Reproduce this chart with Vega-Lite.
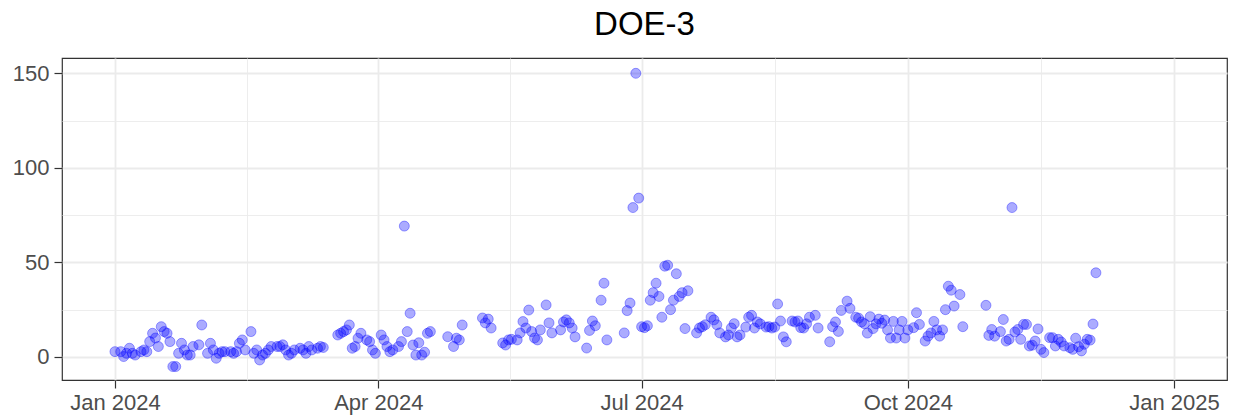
{
  "$schema": "https://vega.github.io/schema/vega-lite/v6.json",
  "width": 1165,
  "height": 322,
  "autosize": "none",
  "padding": {"left": 62, "top": 58, "right": 12, "bottom": 36},
  "background": "white",
  "title": {"text": "DOE-3", "font": "Liberation Sans", "fontSize": 33, "fontWeight": "normal", "color": "#000000", "anchor": "middle", "baseline": "alphabetic", "offset": 20, "dy": 30},
  "config": {"view": {"stroke": "#333333", "strokeWidth": 1.2}},
  "data": {"values": [
    {"date": "2024-01-01", "value": 2.8}, {"date": "2024-01-03", "value": 2.8}, {"date": "2024-01-04", "value": 0.2}, {"date": "2024-01-05", "value": 1.9}, {"date": "2024-01-06", "value": 4.6}, {"date": "2024-01-07", "value": 1.9}, {"date": "2024-01-08", "value": 1.0}, {"date": "2024-01-10", "value": 2.8}, {"date": "2024-01-11", "value": 3.7}, {"date": "2024-01-12", "value": 2.8}, {"date": "2024-01-13", "value": 8.1}, {"date": "2024-01-14", "value": 12.5}, {"date": "2024-01-15", "value": 10.0}, {"date": "2024-01-16", "value": 5.5}, {"date": "2024-01-17", "value": 16.0}, {"date": "2024-01-18", "value": 13.4}, {"date": "2024-01-19", "value": 12.5}, {"date": "2024-01-20", "value": 8.1}, {"date": "2024-01-21", "value": -5.1}, {"date": "2024-01-22", "value": -5.1}, {"date": "2024-01-23", "value": 1.9}, {"date": "2024-01-24", "value": 7.2}, {"date": "2024-01-25", "value": 3.7}, {"date": "2024-01-26", "value": 1.0}, {"date": "2024-01-27", "value": 1.0}, {"date": "2024-01-28", "value": 5.5}, {"date": "2024-01-30", "value": 6.4}, {"date": "2024-01-31", "value": 16.9},
    {"date": "2024-02-02", "value": 1.9}, {"date": "2024-02-03", "value": 7.2}, {"date": "2024-02-04", "value": 3.7}, {"date": "2024-02-05", "value": -0.7}, {"date": "2024-02-06", "value": 1.9}, {"date": "2024-02-07", "value": 2.8}, {"date": "2024-02-08", "value": 2.8}, {"date": "2024-02-10", "value": 2.8}, {"date": "2024-02-11", "value": 1.9}, {"date": "2024-02-12", "value": 2.8}, {"date": "2024-02-13", "value": 7.2}, {"date": "2024-02-14", "value": 9.0}, {"date": "2024-02-15", "value": 3.7}, {"date": "2024-02-17", "value": 13.4}, {"date": "2024-02-18", "value": 1.9}, {"date": "2024-02-19", "value": 3.7}, {"date": "2024-02-20", "value": -1.6}, {"date": "2024-02-21", "value": 1.0}, {"date": "2024-02-22", "value": 1.9}, {"date": "2024-02-23", "value": 3.7}, {"date": "2024-02-24", "value": 5.5}, {"date": "2024-02-26", "value": 5.5}, {"date": "2024-02-27", "value": 5.5}, {"date": "2024-02-28", "value": 6.4}, {"date": "2024-02-29", "value": 3.7},
    {"date": "2024-03-01", "value": 1.0}, {"date": "2024-03-02", "value": 1.9}, {"date": "2024-03-03", "value": 3.7}, {"date": "2024-03-05", "value": 4.6}, {"date": "2024-03-06", "value": 3.7}, {"date": "2024-03-07", "value": 1.9}, {"date": "2024-03-08", "value": 5.5}, {"date": "2024-03-09", "value": 3.7}, {"date": "2024-03-11", "value": 4.6}, {"date": "2024-03-12", "value": 5.5}, {"date": "2024-03-13", "value": 5.0}, {"date": "2024-03-18", "value": 11.6}, {"date": "2024-03-19", "value": 12.5}, {"date": "2024-03-20", "value": 13.4}, {"date": "2024-03-21", "value": 14.3}, {"date": "2024-03-22", "value": 16.9}, {"date": "2024-03-23", "value": 4.6}, {"date": "2024-03-24", "value": 5.5}, {"date": "2024-03-25", "value": 9.9}, {"date": "2024-03-26", "value": 12.5}, {"date": "2024-03-28", "value": 9.0}, {"date": "2024-03-29", "value": 8.1}, {"date": "2024-03-30", "value": 3.7}, {"date": "2024-03-31", "value": 1.9},
    {"date": "2024-04-02", "value": 11.6}, {"date": "2024-04-03", "value": 9.0}, {"date": "2024-04-04", "value": 5.5}, {"date": "2024-04-05", "value": 2.8}, {"date": "2024-04-06", "value": 3.7}, {"date": "2024-04-08", "value": 5.5}, {"date": "2024-04-09", "value": 8.1}, {"date": "2024-04-10", "value": 69.2}, {"date": "2024-04-11", "value": 13.4}, {"date": "2024-04-12", "value": 23.1}, {"date": "2024-04-13", "value": 6.3}, {"date": "2024-04-14", "value": 1.0}, {"date": "2024-04-15", "value": 7.5}, {"date": "2024-04-16", "value": 1.0}, {"date": "2024-04-17", "value": 2.5}, {"date": "2024-04-18", "value": 12.5}, {"date": "2024-04-19", "value": 13.4}, {"date": "2024-04-25", "value": 10.7}, {"date": "2024-04-27", "value": 5.5}, {"date": "2024-04-28", "value": 9.9}, {"date": "2024-04-29", "value": 9.0}, {"date": "2024-04-30", "value": 16.9},
    {"date": "2024-05-07", "value": 20.6}, {"date": "2024-05-08", "value": 18.0}, {"date": "2024-05-09", "value": 20.0}, {"date": "2024-05-10", "value": 15.3}, {"date": "2024-05-14", "value": 7.4}, {"date": "2024-05-15", "value": 6.3}, {"date": "2024-05-16", "value": 9.0}, {"date": "2024-05-17", "value": 9.3}, {"date": "2024-05-19", "value": 9.0}, {"date": "2024-05-20", "value": 12.7}, {"date": "2024-05-21", "value": 18.7}, {"date": "2024-05-22", "value": 15.3}, {"date": "2024-05-23", "value": 24.8}, {"date": "2024-05-24", "value": 13.4}, {"date": "2024-05-25", "value": 10.0}, {"date": "2024-05-26", "value": 9.0}, {"date": "2024-05-27", "value": 14.3}, {"date": "2024-05-29", "value": 27.5}, {"date": "2024-05-30", "value": 18.0}, {"date": "2024-05-31", "value": 12.7},
    {"date": "2024-06-03", "value": 14.3}, {"date": "2024-06-04", "value": 18.5}, {"date": "2024-06-05", "value": 19.6}, {"date": "2024-06-06", "value": 18.0}, {"date": "2024-06-07", "value": 15.3}, {"date": "2024-06-08", "value": 10.6}, {"date": "2024-06-12", "value": 4.7}, {"date": "2024-06-13", "value": 14.0}, {"date": "2024-06-14", "value": 19.0}, {"date": "2024-06-15", "value": 16.5}, {"date": "2024-06-17", "value": 30.0}, {"date": "2024-06-18", "value": 39.0}, {"date": "2024-06-19", "value": 9.0}, {"date": "2024-06-25", "value": 12.7}, {"date": "2024-06-26", "value": 24.5}, {"date": "2024-06-27", "value": 28.5}, {"date": "2024-06-28", "value": 79.0}, {"date": "2024-06-29", "value": 150.0}, {"date": "2024-06-30", "value": 84.0},
    {"date": "2024-07-01", "value": 16.0}, {"date": "2024-07-02", "value": 15.5}, {"date": "2024-07-03", "value": 16.5}, {"date": "2024-07-04", "value": 30.0}, {"date": "2024-07-05", "value": 34.0}, {"date": "2024-07-06", "value": 39.0}, {"date": "2024-07-07", "value": 32.0}, {"date": "2024-07-08", "value": 21.0}, {"date": "2024-07-09", "value": 48.0}, {"date": "2024-07-10", "value": 48.5}, {"date": "2024-07-11", "value": 25.0}, {"date": "2024-07-12", "value": 30.0}, {"date": "2024-07-13", "value": 44.0}, {"date": "2024-07-14", "value": 32.0}, {"date": "2024-07-15", "value": 34.0}, {"date": "2024-07-16", "value": 15.0}, {"date": "2024-07-17", "value": 35.0}, {"date": "2024-07-20", "value": 12.7}, {"date": "2024-07-21", "value": 15.3}, {"date": "2024-07-22", "value": 16.0}, {"date": "2024-07-23", "value": 17.0}, {"date": "2024-07-25", "value": 21.0}, {"date": "2024-07-26", "value": 19.6}, {"date": "2024-07-27", "value": 17.0}, {"date": "2024-07-28", "value": 12.7}, {"date": "2024-07-30", "value": 10.6}, {"date": "2024-07-31", "value": 11.6},
    {"date": "2024-08-01", "value": 15.3}, {"date": "2024-08-02", "value": 17.6}, {"date": "2024-08-03", "value": 10.6}, {"date": "2024-08-04", "value": 11.6}, {"date": "2024-08-06", "value": 15.8}, {"date": "2024-08-07", "value": 21.0}, {"date": "2024-08-08", "value": 22.0}, {"date": "2024-08-09", "value": 15.3}, {"date": "2024-08-10", "value": 18.5}, {"date": "2024-08-11", "value": 17.5}, {"date": "2024-08-13", "value": 15.8}, {"date": "2024-08-14", "value": 16.0}, {"date": "2024-08-15", "value": 15.3}, {"date": "2024-08-16", "value": 15.8}, {"date": "2024-08-17", "value": 28.0}, {"date": "2024-08-18", "value": 19.0}, {"date": "2024-08-19", "value": 10.6}, {"date": "2024-08-20", "value": 8.0}, {"date": "2024-08-22", "value": 19.0}, {"date": "2024-08-23", "value": 18.5}, {"date": "2024-08-24", "value": 19.0}, {"date": "2024-08-25", "value": 15.5}, {"date": "2024-08-26", "value": 15.3}, {"date": "2024-08-27", "value": 17.5}, {"date": "2024-08-28", "value": 21.0}, {"date": "2024-08-30", "value": 22.0}, {"date": "2024-08-31", "value": 15.3},
    {"date": "2024-09-04", "value": 8.0}, {"date": "2024-09-05", "value": 16.0}, {"date": "2024-09-06", "value": 18.5}, {"date": "2024-09-07", "value": 13.5}, {"date": "2024-09-08", "value": 24.6}, {"date": "2024-09-10", "value": 29.5}, {"date": "2024-09-11", "value": 25.7}, {"date": "2024-09-13", "value": 21.0}, {"date": "2024-09-14", "value": 20.5}, {"date": "2024-09-15", "value": 18.5}, {"date": "2024-09-16", "value": 17.6}, {"date": "2024-09-17", "value": 12.6}, {"date": "2024-09-18", "value": 21.3}, {"date": "2024-09-19", "value": 15.0}, {"date": "2024-09-20", "value": 17.5}, {"date": "2024-09-21", "value": 20.0}, {"date": "2024-09-22", "value": 17.8}, {"date": "2024-09-23", "value": 19.5}, {"date": "2024-09-24", "value": 14.3}, {"date": "2024-09-25", "value": 10.0}, {"date": "2024-09-26", "value": 18.8}, {"date": "2024-09-27", "value": 10.0}, {"date": "2024-09-28", "value": 14.3}, {"date": "2024-09-29", "value": 18.8}, {"date": "2024-09-30", "value": 10.0},
    {"date": "2024-10-01", "value": 14.3}, {"date": "2024-10-03", "value": 15.5}, {"date": "2024-10-04", "value": 23.4}, {"date": "2024-10-05", "value": 17.2}, {"date": "2024-10-07", "value": 8.4}, {"date": "2024-10-08", "value": 11.0}, {"date": "2024-10-09", "value": 12.7}, {"date": "2024-10-10", "value": 18.8}, {"date": "2024-10-11", "value": 14.3}, {"date": "2024-10-12", "value": 11.0}, {"date": "2024-10-13", "value": 14.3}, {"date": "2024-10-14", "value": 25.0}, {"date": "2024-10-15", "value": 37.4}, {"date": "2024-10-16", "value": 35.3}, {"date": "2024-10-17", "value": 26.9}, {"date": "2024-10-19", "value": 33.0}, {"date": "2024-10-20", "value": 16.0}, {"date": "2024-10-28", "value": 27.3}, {"date": "2024-10-29", "value": 11.4}, {"date": "2024-10-30", "value": 14.5}, {"date": "2024-10-31", "value": 11.0},
    {"date": "2024-11-02", "value": 13.4}, {"date": "2024-11-03", "value": 19.8}, {"date": "2024-11-04", "value": 8.4}, {"date": "2024-11-05", "value": 9.3}, {"date": "2024-11-06", "value": 79.0}, {"date": "2024-11-07", "value": 13.2}, {"date": "2024-11-08", "value": 14.5}, {"date": "2024-11-09", "value": 9.3}, {"date": "2024-11-10", "value": 17.2}, {"date": "2024-11-11", "value": 17.2}, {"date": "2024-11-12", "value": 5.8}, {"date": "2024-11-13", "value": 6.2}, {"date": "2024-11-14", "value": 8.4}, {"date": "2024-11-15", "value": 14.8}, {"date": "2024-11-16", "value": 4.0}, {"date": "2024-11-17", "value": 2.3}, {"date": "2024-11-19", "value": 10.2}, {"date": "2024-11-20", "value": 10.2}, {"date": "2024-11-21", "value": 5.8}, {"date": "2024-11-22", "value": 9.3}, {"date": "2024-11-23", "value": 7.9}, {"date": "2024-11-24", "value": 5.8}, {"date": "2024-11-26", "value": 4.9}, {"date": "2024-11-27", "value": 4.0}, {"date": "2024-11-28", "value": 9.9}, {"date": "2024-11-29", "value": 5.4}, {"date": "2024-11-30", "value": 3.2},
    {"date": "2024-12-01", "value": 6.7}, {"date": "2024-12-02", "value": 9.3}, {"date": "2024-12-03", "value": 8.9}, {"date": "2024-12-04", "value": 17.4}, {"date": "2024-12-05", "value": 44.5}
  ]},
  "mark": {"type": "circle", "size": 100, "color": "#0000ff", "stroke": "#0000ff", "strokeWidth": 1, "fillOpacity": 0.33, "strokeOpacity": 0.35},
  "encoding": {
    "x": {
      "field": "date", "type": "temporal",
      "scale": {"type": "utc", "nice": false, "domain": [
        {"year": 2023, "month": 12, "date": 13, "hours": 16, "minutes": 48, "utc": true},
        {"year": 2025, "month": 1, "date": 19, "hours": 7, "minutes": 12, "utc": true}
      ]},
      "axis": {
        "title": null,
        "values": [
          {"year": 2024, "month": 1, "date": 1, "utc": true},
          {"year": 2024, "month": 2, "date": 15, "hours": 12, "utc": true},
          {"year": 2024, "month": 4, "date": 1, "utc": true},
          {"year": 2024, "month": 5, "date": 16, "hours": 12, "utc": true},
          {"year": 2024, "month": 7, "date": 1, "utc": true},
          {"year": 2024, "month": 8, "date": 16, "utc": true},
          {"year": 2024, "month": 10, "date": 1, "utc": true},
          {"year": 2024, "month": 11, "date": 16, "utc": true},
          {"year": 2025, "month": 1, "date": 1, "utc": true}
        ],
        "labelExpr": "utcdate(datum.value) === 1 ? utcFormat(datum.value, '%b %Y') : ''",
        "labelFont": "Liberation Sans", "labelFontSize": 22, "labelColor": "#4d4d4d", "labelPadding": 4,
        "labelOverlap": false, "labelFlush": false,
        "domain": false,
        "tickColor": "#333333", "tickWidth": 1.2, "tickSize": 8,
        "tickOpacity": {"condition": {"test": "utcdate(datum.value) !== 1", "value": 0}, "value": 1},
        "grid": true, "gridColor": "#ebebeb",
        "gridWidth": {"condition": {"test": "utcdate(datum.value) !== 1", "value": 0.9}, "value": 1.8}
      }
    },
    "y": {
      "field": "value", "type": "quantitative",
      "scale": {"domain": [-12.2, 158.1], "nice": false, "zero": false},
      "axis": {
        "title": null,
        "values": [0, 25, 50, 75, 100, 125, 150],
        "labelExpr": "datum.value % 50 === 0 ? datum.label : ''",
        "labelFont": "Liberation Sans", "labelFontSize": 22, "labelColor": "#4d4d4d", "labelPadding": 5,
        "domain": false,
        "tickColor": "#333333", "tickWidth": 1.2, "tickSize": 8,
        "tickOpacity": {"condition": {"test": "datum.value % 50 !== 0", "value": 0}, "value": 1},
        "grid": true, "gridColor": "#ebebeb",
        "gridWidth": {"condition": {"test": "datum.value % 50 !== 0", "value": 0.9}, "value": 1.8}
      }
    }
  }
}
